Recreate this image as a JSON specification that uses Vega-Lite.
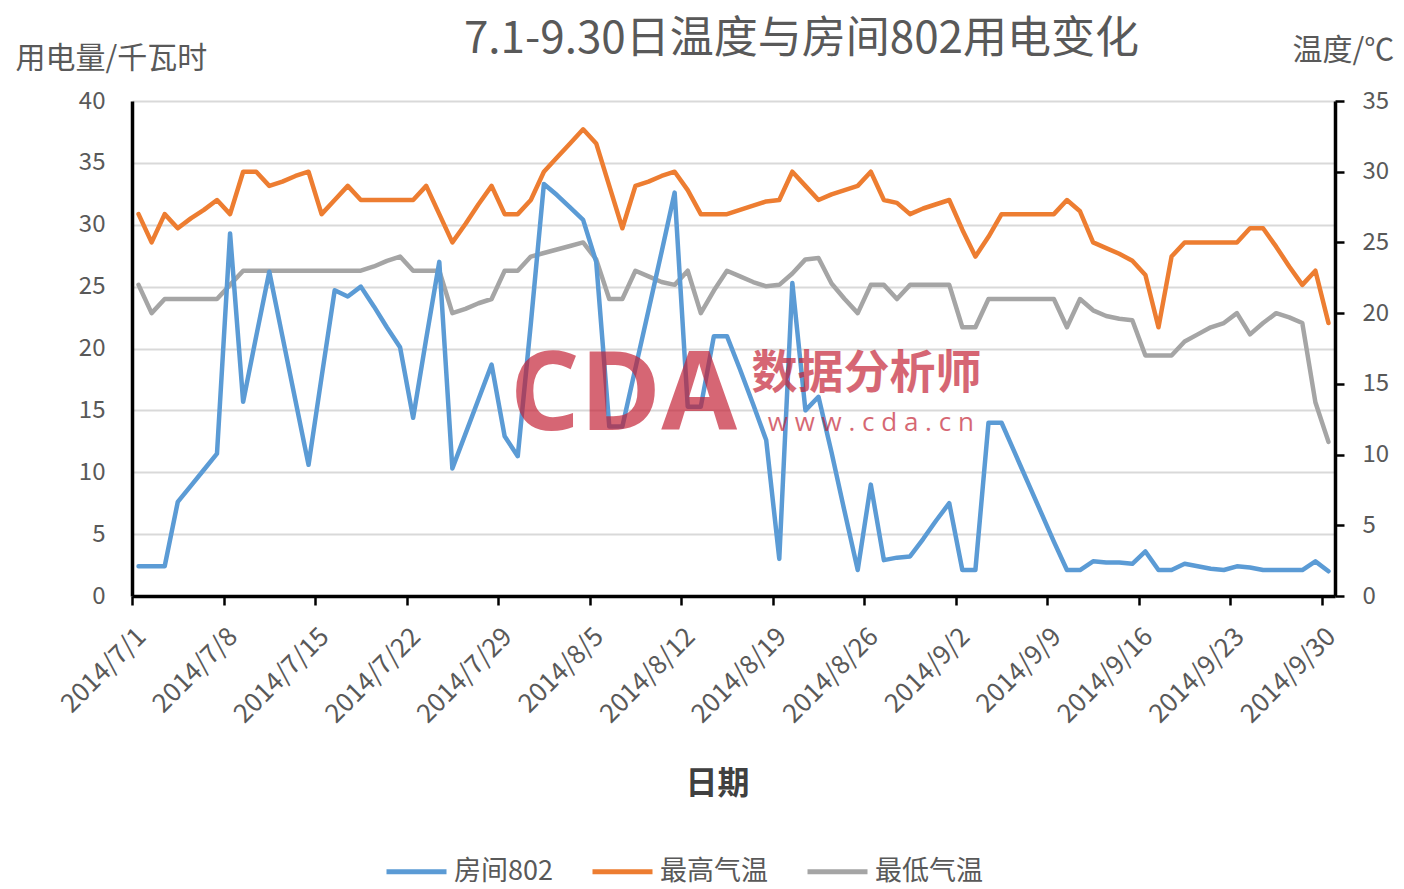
{
  "$schema": "https://vega.github.io/schema/vega-lite/v6.json",
  "width": 1203,
  "height": 495,
  "autosize": {"type": "none"},
  "padding": {"left": 132, "top": 101, "right": 69, "bottom": 293},
  "background": "white",
  "config": {
    "font": "Noto Sans CJK SC",
    "view": {"stroke": null},
    "legend": {
      "orient": "none",
      "legendX": 271,
      "legendY": 757,
      "direction": "horizontal",
      "title": null,
      "symbolType": "M-4,0H4",
      "symbolStrokeWidth": 5,
      "symbolSize": 225,
      "labelFontSize": 27,
      "labelColor": "#595959",
      "labelOffset": 24,
      "columnPadding": 29,
      "labelLimit": 300
    }
  },
  "title": {
    "text": "7.1-9.30日温度与房间802用电变化",
    "fontSize": 44,
    "fontWeight": "normal",
    "color": "#595959",
    "anchor": "middle",
    "dx": 68,
    "offset": 0,
    "dy": 27
  },
  "data": {
    "values": [
      {"日期": "2014-07-01", "房间802": 2.4, "最高气温": 27, "最低气温": 22},
      {"日期": "2014-07-02", "房间802": 2.4, "最高气温": 25, "最低气温": 20},
      {"日期": "2014-07-03", "房间802": 2.4, "最高气温": 27, "最低气温": 21},
      {"日期": "2014-07-04", "房间802": 7.6, "最高气温": 26, "最低气温": 21},
      {"日期": "2014-07-05", "房间802": 8.9, "最高气温": 26.7, "最低气温": 21},
      {"日期": "2014-07-06", "房间802": 10.2, "最高气温": 27.3, "最低气温": 21},
      {"日期": "2014-07-07", "房间802": 11.5, "最高气温": 28, "最低气温": 21},
      {"日期": "2014-07-08", "房间802": 29.3, "最高气温": 27, "最低气温": 22},
      {"日期": "2014-07-09", "房间802": 15.7, "最高气温": 30, "最低气温": 23},
      {"日期": "2014-07-10", "房间802": 21, "最高气温": 30, "最低气温": 23},
      {"日期": "2014-07-11", "房间802": 26.2, "最高气温": 29, "最低气温": 23},
      {"日期": "2014-07-12", "房间802": 21, "最高气温": 29.3, "最低气温": 23},
      {"日期": "2014-07-13", "房间802": 15.8, "最高气温": 29.7, "最低气温": 23},
      {"日期": "2014-07-14", "房间802": 10.6, "最高气温": 30, "最低气温": 23},
      {"日期": "2014-07-15", "房间802": 17.7, "最高气温": 27, "最低气温": 23},
      {"日期": "2014-07-16", "房间802": 24.7, "最高气温": 28, "最低气温": 23},
      {"日期": "2014-07-17", "房间802": 24.2, "最高气温": 29, "最低气温": 23},
      {"日期": "2014-07-18", "房间802": 25, "最高气温": 28, "最低气温": 23},
      {"日期": "2014-07-19", "房间802": 23.4, "最高气温": 28, "最低气温": 23.3},
      {"日期": "2014-07-20", "房间802": 21.7, "最高气温": 28, "最低气温": 23.7},
      {"日期": "2014-07-21", "房间802": 20.1, "最高气温": 28, "最低气温": 24},
      {"日期": "2014-07-22", "房间802": 14.4, "最高气温": 28, "最低气温": 23},
      {"日期": "2014-07-23", "房间802": 20.8, "最高气温": 29, "最低气温": 23},
      {"日期": "2014-07-24", "房间802": 27, "最高气温": 27, "最低气温": 23},
      {"日期": "2014-07-25", "房间802": 10.3, "最高气温": 25, "最低气温": 20},
      {"日期": "2014-07-26", "房间802": 13.1, "最高气温": 26.3, "最低气温": 20.3},
      {"日期": "2014-07-27", "房间802": 15.9, "最高气温": 27.7, "最低气温": 20.7},
      {"日期": "2014-07-28", "房间802": 18.7, "最高气温": 29, "最低气温": 21},
      {"日期": "2014-07-29", "房间802": 12.9, "最高气温": 27, "最低气温": 23},
      {"日期": "2014-07-30", "房间802": 11.3, "最高气温": 27, "最低气温": 23},
      {"日期": "2014-07-31", "房间802": 22, "最高气温": 28, "最低气温": 24},
      {"日期": "2014-08-01", "房间802": 33.3, "最高气温": 30, "最低气温": 24.25},
      {"日期": "2014-08-02", "房间802": 32.4, "最高气温": 31, "最低气温": 24.5},
      {"日期": "2014-08-03", "房间802": 31.4, "最高气温": 32, "最低气温": 24.75},
      {"日期": "2014-08-04", "房间802": 30.4, "最高气温": 33, "最低气温": 25},
      {"日期": "2014-08-05", "房间802": 27, "最高气温": 32, "最低气温": 23.8},
      {"日期": "2014-08-06", "房间802": 13.7, "最高气温": 29, "最低气温": 21},
      {"日期": "2014-08-07", "房间802": 13.7, "最高气温": 26, "最低气温": 21},
      {"日期": "2014-08-08", "房间802": 18.4, "最高气温": 29, "最低气温": 23},
      {"日期": "2014-08-09", "房间802": 23.1, "最高气温": 29.3, "最低气温": 22.6},
      {"日期": "2014-08-10", "房间802": 27.8, "最高气温": 29.7, "最低气温": 22.2},
      {"日期": "2014-08-11", "房间802": 32.6, "最高气温": 30, "最低气温": 22},
      {"日期": "2014-08-12", "房间802": 15.3, "最高气温": 28.7, "最低气温": 23},
      {"日期": "2014-08-13", "房间802": 15.3, "最高气温": 27, "最低气温": 20},
      {"日期": "2014-08-14", "房间802": 21, "最高气温": 27, "最低气温": 21.6},
      {"日期": "2014-08-15", "房间802": 21, "最高气温": 27, "最低气温": 23},
      {"日期": "2014-08-16", "房间802": 18.3, "最高气温": 27.3, "最低气温": 22.6},
      {"日期": "2014-08-17", "房间802": 15.5, "最高气温": 27.6, "最低气温": 22.2},
      {"日期": "2014-08-18", "房间802": 12.6, "最高气温": 27.9, "最低气温": 21.9},
      {"日期": "2014-08-19", "房间802": 3.0, "最高气温": 28, "最低气温": 22},
      {"日期": "2014-08-20", "房间802": 25.3, "最高气温": 30, "最低气温": 22.8},
      {"日期": "2014-08-21", "房间802": 15, "最高气温": 29, "最低气温": 23.8},
      {"日期": "2014-08-22", "房间802": 16.1, "最高气温": 28, "最低气温": 23.9},
      {"日期": "2014-08-23", "房间802": 11.6, "最高气温": 28.4, "最低气温": 22.1},
      {"日期": "2014-08-24", "房间802": 6.8, "最高气温": 28.7, "最低气温": 21},
      {"日期": "2014-08-25", "房间802": 2.1, "最高气温": 29, "最低气温": 20},
      {"日期": "2014-08-26", "房间802": 9.0, "最高气温": 30, "最低气温": 22},
      {"日期": "2014-08-27", "房间802": 2.9, "最高气温": 28, "最低气温": 22},
      {"日期": "2014-08-28", "房间802": 3.1, "最高气温": 27.8, "最低气温": 21},
      {"日期": "2014-08-29", "房间802": 3.2, "最高气温": 27, "最低气温": 22},
      {"日期": "2014-08-30", "房间802": 4.6, "最高气温": 27.4, "最低气温": 22},
      {"日期": "2014-08-31", "房间802": 6.1, "最高气温": 27.7, "最低气温": 22},
      {"日期": "2014-09-01", "房间802": 7.5, "最高气温": 28, "最低气温": 22},
      {"日期": "2014-09-02", "房间802": 2.1, "最高气温": 25.9, "最低气温": 19},
      {"日期": "2014-09-03", "房间802": 2.1, "最高气温": 24, "最低气温": 19},
      {"日期": "2014-09-04", "房间802": 14, "最高气温": 25.4, "最低气温": 21},
      {"日期": "2014-09-05", "房间802": 14, "最高气温": 27, "最低气温": 21},
      {"日期": "2014-09-06", "房间802": 11.6, "最高气温": 27, "最低气温": 21},
      {"日期": "2014-09-07", "房间802": 9.2, "最高气温": 27, "最低气温": 21},
      {"日期": "2014-09-08", "房间802": 6.8, "最高气温": 27, "最低气温": 21},
      {"日期": "2014-09-09", "房间802": 4.4, "最高气温": 27, "最低气温": 21},
      {"日期": "2014-09-10", "房间802": 2.1, "最高气温": 28, "最低气温": 19},
      {"日期": "2014-09-11", "房间802": 2.1, "最高气温": 27.2, "最低气温": 21},
      {"日期": "2014-09-12", "房间802": 2.8, "最高气温": 25, "最低气温": 20.2},
      {"日期": "2014-09-13", "房间802": 2.7, "最高气温": 24.6, "最低气温": 19.8},
      {"日期": "2014-09-14", "房间802": 2.7, "最高气温": 24.2, "最低气温": 19.6},
      {"日期": "2014-09-15", "房间802": 2.6, "最高气温": 23.7, "最低气温": 19.5},
      {"日期": "2014-09-16", "房间802": 3.6, "最高气温": 22.7, "最低气温": 17},
      {"日期": "2014-09-17", "房间802": 2.1, "最高气温": 19, "最低气温": 17},
      {"日期": "2014-09-18", "房间802": 2.1, "最高气温": 24, "最低气温": 17},
      {"日期": "2014-09-19", "房间802": 2.6, "最高气温": 25, "最低气温": 18},
      {"日期": "2014-09-20", "房间802": 2.4, "最高气温": 25, "最低气温": 18.5},
      {"日期": "2014-09-21", "房间802": 2.2, "最高气温": 25, "最低气温": 19},
      {"日期": "2014-09-22", "房间802": 2.1, "最高气温": 25, "最低气温": 19.3},
      {"日期": "2014-09-23", "房间802": 2.4, "最高气温": 25, "最低气温": 20},
      {"日期": "2014-09-24", "房间802": 2.3, "最高气温": 26, "最低气温": 18.5},
      {"日期": "2014-09-25", "房间802": 2.1, "最高气温": 26, "最低气温": 19.3},
      {"日期": "2014-09-26", "房间802": 2.1, "最高气温": 24.7, "最低气温": 20},
      {"日期": "2014-09-27", "房间802": 2.1, "最高气温": 23.3, "最低气温": 19.7},
      {"日期": "2014-09-28", "房间802": 2.1, "最高气温": 22, "最低气温": 19.3},
      {"日期": "2014-09-29", "房间802": 2.8, "最高气温": 23, "最低气温": 13.7},
      {"日期": "2014-09-30", "房间802": 2.0, "最高气温": 19.3, "最低气温": 10.9}
    ]
  },
  "layer": [
    {
      "transform": [{"fold": ["最高气温", "最低气温"], "as": ["系列", "值"]}],
      "mark": {"type": "line", "strokeWidth": 4.5, "strokeJoin": "round", "strokeCap": "round"},
      "encoding": {
        "x": {
          "field": "日期",
          "type": "temporal",
          "timeUnit": "utcyearmonthdate",
          "bandPosition": 0.5,
          "title": "日期",
          "scale": {
            "type": "utc",
            "nice": false,
            "domain": [
              {"year": 2014, "month": 7, "date": 1, "utc": true},
              {"year": 2014, "month": 10, "date": 1, "utc": true}
            ]
          },
          "axis": {
            "values": [
              {"year": 2014, "month": 7, "date": 1, "utc": true},
              {"year": 2014, "month": 7, "date": 8, "utc": true},
              {"year": 2014, "month": 7, "date": 15, "utc": true},
              {"year": 2014, "month": 7, "date": 22, "utc": true},
              {"year": 2014, "month": 7, "date": 29, "utc": true},
              {"year": 2014, "month": 8, "date": 5, "utc": true},
              {"year": 2014, "month": 8, "date": 12, "utc": true},
              {"year": 2014, "month": 8, "date": 19, "utc": true},
              {"year": 2014, "month": 8, "date": 26, "utc": true},
              {"year": 2014, "month": 9, "date": 2, "utc": true},
              {"year": 2014, "month": 9, "date": 9, "utc": true},
              {"year": 2014, "month": 9, "date": 16, "utc": true},
              {"year": 2014, "month": 9, "date": 23, "utc": true},
              {"year": 2014, "month": 9, "date": 30, "utc": true}
            ],
            "labelExpr": "utcFormat(datum.value, '%Y/%-m/%-d')",
            "labelAngle": -45,
            "labelFontSize": 26,
            "labelColor": "#595959",
            "labelPadding": 18,
            "labelOverlap": false,
            "labelFlush": false,
            "domainColor": "black",
            "domainWidth": 3.5,
            "ticks": true,
            "tickColor": "black",
            "tickWidth": 2.5,
            "tickSize": 9,
            "grid": false,
            "titleFontSize": 32,
            "titleColor": "#404040",
            "titleFontWeight": "bold",
            "titleX": 585,
            "titleY": 187,
            "titleAlign": "center",
            "titleBaseline": "middle"
          }
        },
        "y": {
          "field": "值",
          "type": "quantitative",
          "scale": {"domain": [0, 35], "nice": false},
          "axis": {
            "orient": "right",
            "title": "温度/℃",
            "values": [0, 5, 10, 15, 20, 25, 30, 35],
            "grid": false,
            "domainColor": "black",
            "domainWidth": 3.5,
            "ticks": true,
            "tickColor": "black",
            "tickWidth": 2.5,
            "tickSize": 9,
            "labelFontSize": 24,
            "labelColor": "#595959",
            "labelPadding": 18,
            "titleAngle": 0,
            "titleX": -43,
            "titleY": -51,
            "titleAlign": "left",
            "titleBaseline": "middle",
            "titleFontSize": 30,
            "titleFontWeight": "normal",
            "titleColor": "#595959"
          }
        },
        "color": {
          "field": "系列",
          "type": "nominal",
          "scale": {"domain": ["房间802", "最高气温", "最低气温"], "range": ["#5B9BD5", "#ED7D31", "#A5A5A5"]}
        }
      }
    },
    {
      "layer": [
        {
          "transform": [{"fold": ["房间802"], "as": ["系列", "值"]}],
          "mark": {"type": "line", "strokeWidth": 4.5, "strokeJoin": "round", "strokeCap": "round"},
          "encoding": {
            "x": {
              "field": "日期",
              "type": "temporal",
              "timeUnit": "utcyearmonthdate",
              "bandPosition": 0.5,
              "title": "日期"
            },
            "y": {
              "field": "值",
              "type": "quantitative",
              "scale": {"domain": [0, 40], "nice": false},
              "axis": {
                "orient": "left",
                "title": "用电量/千瓦时",
                "values": [0, 5, 10, 15, 20, 25, 30, 35, 40],
                "grid": true,
                "gridColor": "#D9D9D9",
                "gridWidth": 2,
                "domainColor": "black",
                "domainWidth": 3.5,
                "ticks": false,
                "tickSize": 0,
                "labelFontSize": 24,
                "labelColor": "#595959",
                "labelPadding": 27,
                "titleAngle": 0,
                "titleX": -117,
                "titleY": -43,
                "titleAlign": "left",
                "titleBaseline": "middle",
                "titleFontSize": 30,
                "titleFontWeight": "normal",
                "titleColor": "#595959"
              }
            },
            "color": {
              "field": "系列",
              "type": "nominal",
              "scale": {"domain": ["房间802", "最高气温", "最低气温"], "range": ["#5B9BD5", "#ED7D31", "#A5A5A5"]}
            }
          }
        },
        {
          "data": {"values": [{"水印": "CDA"}]},
          "mark": {"type": "text", "font": "Open Sans", "fontWeight": "bold", "fontSize": 110, "fill": "#C41F33", "opacity": 0.68, "align": "center", "baseline": "middle"},
          "encoding": {
            "x": {"datum": {"year": 2014, "month": 8, "date": 7, "hours": 14, "utc": true}, "type": "temporal", "title": "日期"},
            "y": {"datum": 16.1, "type": "quantitative"},
            "text": {"field": "水印", "type": "nominal"}
          }
        },
        {
          "data": {"values": [{"水印": "数据分析师"}]},
          "mark": {"type": "text", "font": "Noto Sans CJK SC", "fontWeight": "bold", "fontSize": 46, "fill": "#C41F33", "opacity": 0.68, "align": "center", "baseline": "middle"},
          "encoding": {
            "x": {"datum": {"year": 2014, "month": 8, "date": 26, "hours": 4, "utc": true}, "type": "temporal", "title": "日期"},
            "y": {"datum": 17.95, "type": "quantitative"},
            "text": {"field": "水印", "type": "nominal"}
          }
        },
        {
          "data": {"values": [{"水印": "w w w . c d a . c n"}]},
          "mark": {"type": "text", "font": "Open Sans", "fontSize": 26, "fill": "#C41F33", "opacity": 0.68, "align": "center", "baseline": "middle"},
          "encoding": {
            "x": {"datum": {"year": 2014, "month": 8, "date": 26, "hours": 12, "utc": true}, "type": "temporal", "title": "日期"},
            "y": {"datum": 13.95, "type": "quantitative"},
            "text": {"field": "水印", "type": "nominal"}
          }
        }
      ]
    }
  ],
  "resolve": {"scale": {"y": "independent"}}
}
